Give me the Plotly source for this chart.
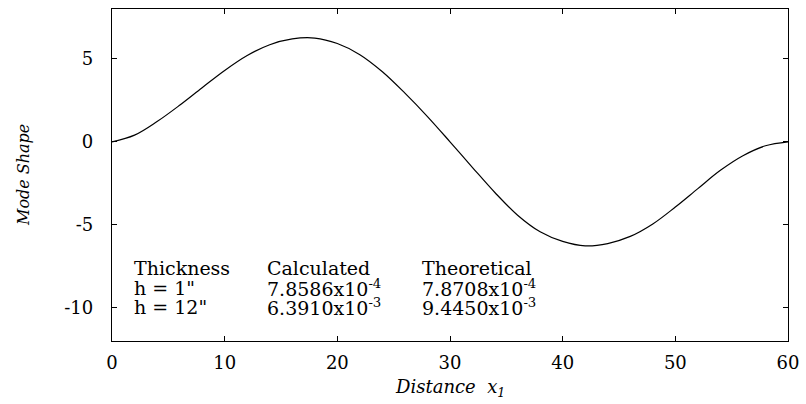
import plotly.graph_objects as go

# Values
distance = [0, 2, 4, 6, 8, 10, 12, 14, 16, 18, 20, 22, 24, 26, 28, 30,
            32, 34, 36, 38, 40, 42, 44, 46, 48, 50, 52, 54, 56, 58, 60]
mode_shape = [0, 0.4, 1.22, 2.2, 3.26, 4.3, 5.2, 5.85, 6.2, 6.25, 5.92, 5.25, 4.22, 2.93, 1.52, 0,
              -1.55, -3.07, -4.42, -5.42, -6.0, -6.27, -6.13, -5.7, -4.95, -3.93, -2.82, -1.72, -0.84,
              -0.24, 0]

x_ticks = [0, 10, 20, 30, 40, 50, 60]
y_ticks = [-10, -5, 0, 5]

table_header = ["Thickness", "Calculated", "Theoretical"]
table_rows = [
    ["h = 1\"", "7.8586x10<sup>-4</sup>", "7.8708x10<sup>-4</sup>"],
    ["h = 12\"", "6.3910x10<sup>-3</sup>", "9.4450x10<sup>-3</sup>"],
]

W, H = 806, 404
L, R, T, B = 112, 18, 9, 63
FONT = "DejaVu Serif"

fig = go.Figure()
fig.add_trace(go.Scatter(x=distance, y=mode_shape, mode="lines",
                         line=dict(color="black", width=1.2, shape="spline", smoothing=1.0),
                         showlegend=False, hoverinfo="skip"))

axis_common = dict(showgrid=False, zeroline=False, showline=True, linecolor="black",
                   linewidth=1.3, mirror="ticks", ticks="inside", ticklen=5,
                   tickcolor="black", tickwidth=1,
                   tickfont=dict(family=FONT, size=18, color="black"))
fig.update_xaxes(range=[0, 60], tickvals=x_ticks, ticktext=[str(v) for v in x_ticks],
                 ticklabelstandoff=5, **axis_common)
fig.update_yaxes(range=[-12, 8], tickvals=y_ticks, ticktext=[str(v) for v in y_ticks],
                 ticklabelstandoff=14, **axis_common)

plot_w = W - L - R
plot_h = H - T - B

def px_x(px):
    return (px - L) / plot_w

def px_y(py):
    return (H - B - py) / plot_h

annotations = []
col_x = [132, 265, 420]
row_y = [268, 287.5, 306.5]
for c, txt in enumerate(table_header):
    annotations.append(dict(text=txt, x=px_x(col_x[c]), y=px_y(row_y[0]), xref="paper", yref="paper",
                            xanchor="left", yanchor="middle", showarrow=False,
                            font=dict(family=FONT, size=19, color="black")))
for r, row in enumerate(table_rows):
    for c, txt in enumerate(row):
        annotations.append(dict(text=txt, x=px_x(col_x[c]), y=px_y(row_y[r + 1]), xref="paper", yref="paper",
                                xanchor="left", yanchor="middle", showarrow=False,
                                font=dict(family=FONT, size=19, color="black")))

annotations.append(dict(text="<i>Distance  x<sub>1</sub></i>", x=0.5, y=px_y(388), xref="paper", yref="paper",
                        xanchor="center", yanchor="middle", showarrow=False,
                        font=dict(family=FONT, size=18, color="black")))
annotations.append(dict(text="<i>Mode Shape</i>", x=px_x(23), y=px_y(175), xref="paper", yref="paper",
                        xanchor="center", yanchor="middle", showarrow=False, textangle=-90,
                        font=dict(family=FONT, size=16, color="black")))

fig.update_layout(width=W, height=H, margin=dict(l=L, r=R, t=T, b=B, autoexpand=False),
                  paper_bgcolor="white", plot_bgcolor="white", annotations=annotations)

fig.write_html("out.html")
